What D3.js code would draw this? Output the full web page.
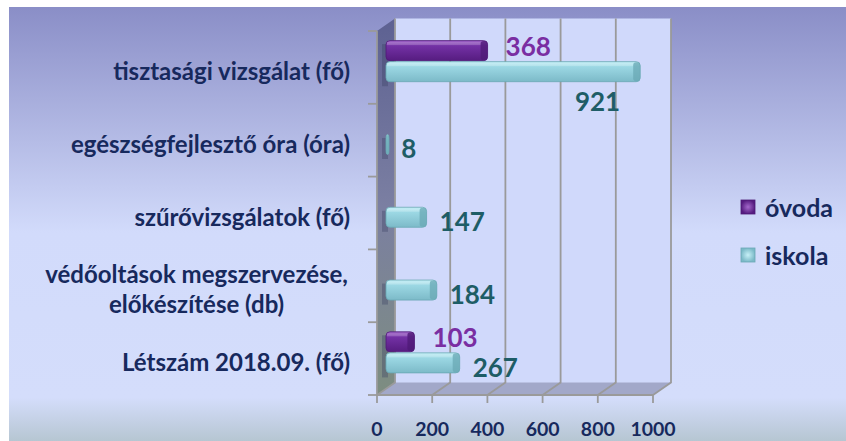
<!DOCTYPE html>
<html>
<head>
<meta charset="utf-8">
<script src="https://cdn.jsdelivr.net/npm/d3@7"></script>
<style>
  body { margin: 0; background: #fff; }
  svg { display: block; font-family: Lato, "Open Sans", sans-serif; }
</style>
</head>
<body>
<svg width="846" height="441"></svg>
<script>
// data, top to bottom as in the picture
const categories = [
  "tisztasági vizsgálat (fő)",
  "egészségfejlesztő óra (óra)",
  "szűrővizsgálatok (fő)",
  "védőoltások megszervezése, előkészítése (db)",
  "Létszám 2018.09. (fő)"
];
const series = ["óvoda", "iskola"];
const ovoda = [368, null, null, null, 103];
const iskola = [921, 8, 147, 184, 267];
const xTicks = [0, 200, 400, 600, 800, 1000];

const svg = d3.select("svg");
const W = 846, H = 441;

// front plane of the 3d box and depth offset
const front = { left: 377, right: 653, top: 31, bottom: 395 };
const depth = { dx: 18, dy: -12.5 };

const navy = "#17295d";
const grid = "#9a9a9a";
const colors = {
  "óvoda": { top: "#a468cc", mid: "#7432a6", bot: "#561c80", cap: "#4e1a76", label: "#7a2ea2" },
  "iskola": { top: "#c6f0f7", mid: "#9cd8e4", bot: "#7cbac8", cap: "#6aa8b4", label: "#1e5d66" }
};

const defs = svg.append("defs");

// background gradient
const bg = defs.append("linearGradient").attr("id", "bg").attr("x1", 0).attr("y1", 0).attr("x2", 0).attr("y2", 1);
bg.append("stop").attr("offset", "0%").attr("stop-color", "#8a8ec7");
bg.append("stop").attr("offset", "52%").attr("stop-color", "#d2dbfb");
bg.append("stop").attr("offset", "90%").attr("stop-color", "#d4ddfb");
bg.append("stop").attr("offset", "100%").attr("stop-color", "#b6c6d2");

const side = defs.append("linearGradient").attr("id", "side").attr("x1", 0).attr("y1", 0).attr("x2", 0).attr("y2", 1);
side.append("stop").attr("offset", "0%").attr("stop-color", "#5d6192");
side.append("stop").attr("offset", "50%").attr("stop-color", "#7b7fa2");
side.append("stop").attr("offset", "100%").attr("stop-color", "#7d8d80");

series.forEach((s, i) => {
  const c = colors[s];
  const g = defs.append("linearGradient").attr("id", "bar" + i).attr("x1", 0).attr("y1", 0).attr("x2", 0).attr("y2", 1);
  g.append("stop").attr("offset", "0%").attr("stop-color", c.top);
  g.append("stop").attr("offset", "25%").attr("stop-color", c.mid);
  g.append("stop").attr("offset", "100%").attr("stop-color", c.bot);
  const m = defs.append("radialGradient").attr("id", "mark" + i);
  m.append("stop").attr("offset", "0%").attr("stop-color", c.top);
  m.append("stop").attr("offset", "100%").attr("stop-color", c.bot);
});

svg.append("rect").attr("x", 9).attr("y", 7).attr("width", W - 9).attr("height", H - 7).attr("fill", "url(#bg)");

// scales (front plane)
const x = d3.scaleLinear().domain([0, 1000]).range([front.left, front.right]);
const y = d3.scaleBand().domain(categories).range([front.top, front.bottom]);
const ySub = d3.scaleBand().domain(series).range([0, y.bandwidth()]).paddingOuter(0.73);

// back wall
svg.append("rect")
  .attr("x", x(0) + depth.dx).attr("y", front.top + depth.dy)
  .attr("width", x(1000) - x(0)).attr("height", front.bottom - front.top)
  .attr("fill", "#d0d9fb");

// side wall
svg.append("path")
  .attr("d", `M${x(0)},${front.top}L${x(0) + depth.dx},${front.top + depth.dy}L${x(0) + depth.dx},${front.bottom + depth.dy}L${x(0)},${front.bottom}Z`)
  .attr("fill", "url(#side)");

// floor
svg.append("path")
  .attr("d", `M${x(0)},${front.bottom}L${x(0) + depth.dx},${front.bottom + depth.dy}L${x(1000) + depth.dx},${front.bottom + depth.dy}L${x(1000)},${front.bottom}Z`)
  .attr("fill", "#a2a8c9");

// gridlines on back wall and floor
svg.append("g").selectAll("path").data(xTicks).join("path")
  .attr("d", d => `M${x(d) + depth.dx},${front.top + depth.dy}V${front.bottom + depth.dy}L${x(d)},${front.bottom}`)
  .attr("fill", "none").attr("stroke", grid).attr("stroke-width", 1.8);

// axis lines
svg.append("path")
  .attr("d", `M${x(0)},${front.top}V${front.bottom}H${x(1000)}`)
  .attr("fill", "none").attr("stroke", grid).attr("stroke-width", 1.8);

const boundaries = categories.map(c => y(c)).concat([front.bottom]);
svg.append("g").selectAll("line").data(boundaries).join("line")
  .attr("x1", x(0) - 9).attr("x2", x(0)).attr("y1", d => d).attr("y2", d => d)
  .attr("stroke", grid).attr("stroke-width", 1.8);

svg.append("g").selectAll("line").data(xTicks).join("line")
  .attr("x1", d => x(d)).attr("x2", d => x(d)).attr("y1", front.bottom).attr("y2", front.bottom + 8)
  .attr("stroke", grid).attr("stroke-width", 1.8);

// x tick labels
svg.append("g").selectAll("text").data(xTicks).join("text")
  .attr("x", d => x(d)).attr("y", 436)
  .attr("text-anchor", "middle")
  .attr("font-size", 19.5).attr("font-weight", "bold").attr("fill", navy)
  .text(d => d);

// category labels
const catG = svg.append("g");
categories.forEach(c => {
  const lines = c.includes(", ") ? [c.split(", ")[0] + ",", c.split(", ")[1]] : [c];
  const cy = y(c) + y.bandwidth() / 2 + 3;
  const lh = 30;
  const t = catG.append("g");
  const texts = lines.map((l, i) => t.append("text")
    .attr("y", cy + (i - (lines.length - 1) / 2) * lh)
    .attr("dominant-baseline", "central")
    .attr("font-size", 24).attr("font-weight", "bold").attr("fill", navy)
    .text(l));
  if (lines.length === 1) {
    texts[0].attr("x", 350).attr("text-anchor", "end");
  } else {
    const maxW = d3.max(texts, s => s.node().getComputedTextLength());
    texts.forEach(s => s.attr("x", 348 - maxW / 2).attr("text-anchor", "middle"));
  }
});

// bars, drawn at middle depth
const bx = depth.dx / 2, by = depth.dy / 2;
const values = { "óvoda": ovoda, "iskola": iskola };
const shadowG = svg.append("g");
const barG = svg.append("g");
series.forEach((s, si) => {
  const rows = categories.map((c, i) => ({ c, v: values[s][i] })).filter(d => d.v != null);
  const h = ySub.bandwidth();
  const g = barG.append("g");
  rows.forEach(d => {
    const y0 = y(d.c) + ySub(s) + by;
    const x0 = x(0) + bx, x1 = x(d.v) + bx;
    const w = Math.max(x1 - x0, 3);

    // soft shadow cast on the side wall
    shadowG.append("rect")
      .attr("x", x0 - 4).attr("y", y0 + 4).attr("width", 6).attr("height", h)
      .attr("fill", "#3a3f60").attr("opacity", 0.35);

    g.append("rect")
      .attr("x", x0).attr("y", y0 + 0.5).attr("width", w).attr("height", h - 1)
      .attr("rx", 4).attr("fill", "url(#bar" + si + ")")
      .attr("stroke", colors[s].cap).attr("stroke-width", 0.8);
    const capW = Math.min(7, w);
    g.append("rect")
      .attr("x", x0 + w - capW).attr("y", y0 + 1).attr("width", capW).attr("height", h - 2)
      .attr("rx", 3).attr("fill", colors[s].cap).attr("opacity", 0.75);
    g.append("rect")
      .attr("x", x0 + 1).attr("y", y0 + 2).attr("width", Math.max(w - capW - 1, 0)).attr("height", 3)
      .attr("fill", "#fff").attr("opacity", 0.18);

    // value label
    const lab = g.append("text")
      .attr("font-size", 26).attr("font-weight", "bold").attr("fill", colors[s].label)
      .attr("dominant-baseline", "central").text(d.v);
    const lw = lab.node().getComputedTextLength();
    const gap = si === 0 ? 18 : 13;
    if (x1 + gap + lw > x(1000) + depth.dx) {
      lab.attr("text-anchor", "end").attr("x", x1 - 20).attr("y", y0 + h + 19);
    } else {
      lab.attr("x", x1 + gap).attr("y", y0 + h / 2 + (si === 0 ? -5 : 4));
    }
  });
});

// legend
const leg = svg.append("g").attr("transform", "translate(741,200)");
series.forEach((s, i) => {
  const row = leg.append("g").attr("transform", `translate(0,${i * 48})`);
  row.append("rect").attr("width", 14).attr("height", 14)
    .attr("fill", "url(#mark" + i + ")").attr("stroke", colors[s].cap).attr("stroke-width", 0.8);
  row.append("text").attr("x", 24).attr("y", 7)
    .attr("dominant-baseline", "central")
    .attr("font-size", 25).attr("font-weight", "bold").attr("fill", navy)
    .text(s);
});
</script>
</body>
</html>
